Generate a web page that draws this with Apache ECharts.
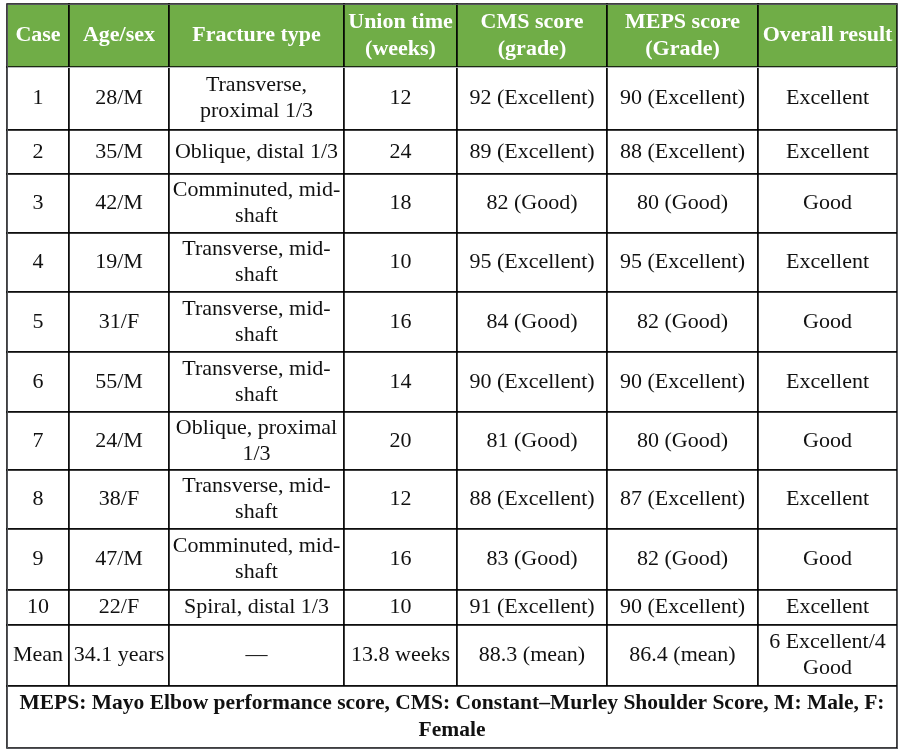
<!DOCTYPE html>
<html>
<head>
<meta charset="utf-8">
<script src="https://cdn.jsdelivr.net/npm/echarts@6/dist/echarts.min.js"></script>
<style>
  html, body { margin: 0; padding: 0; background: #fff; }
  #main { width: 903px; height: 754px; }
</style>
</head>
<body>
<div id="main"></div>
<script>
// table content
var headers = ['Case', 'Age/sex', 'Fracture type', 'Union time\n(weeks)', 'CMS score\n(grade)', 'MEPS score\n(Grade)', 'Overall result'];
var cases = ['1', '2', '3', '4', '5', '6', '7', '8', '9', '10', 'Mean'];
var ageSex = ['28/M', '35/M', '42/M', '19/M', '31/F', '55/M', '24/M', '38/F', '47/M', '22/F', '34.1 years'];
var fractureType = ['Transverse,\nproximal 1/3', 'Oblique, distal 1/3', 'Comminuted, mid-\nshaft', 'Transverse, mid-\nshaft',
    'Transverse, mid-\nshaft', 'Transverse, mid-\nshaft', 'Oblique, proximal\n1/3', 'Transverse, mid-\nshaft',
    'Comminuted, mid-\nshaft', 'Spiral, distal 1/3', '\u2014'];
var unionTime = ['12', '24', '18', '10', '16', '14', '20', '12', '16', '10', '13.8 weeks'];
var cmsScore = ['92 (Excellent)', '89 (Excellent)', '82 (Good)', '95 (Excellent)', '84 (Good)', '90 (Excellent)',
    '81 (Good)', '88 (Excellent)', '83 (Good)', '91 (Excellent)', '88.3 (mean)'];
var mepsScore = ['90 (Excellent)', '88 (Excellent)', '80 (Good)', '95 (Excellent)', '82 (Good)', '90 (Excellent)',
    '80 (Good)', '87 (Excellent)', '82 (Good)', '90 (Excellent)', '86.4 (mean)'];
var overall = ['Excellent', 'Excellent', 'Good', 'Excellent', 'Good', 'Excellent', 'Good', 'Excellent', 'Good',
    'Excellent', '6 Excellent/4\nGood'];
var footnote = 'MEPS: Mayo Elbow performance score, CMS: Constant\u2013Murley Shoulder Score, M: Male, F:\nFemale';

// layout (px)
var colWidths = [62, 100, 175, 113, 150, 151, 139];
var headerHeight = 63;
var rowHeights = [63, 44, 59, 59, 60, 60, 58, 59, 61, 35, 61, 62];

var FONT = '"Liberation Serif", "Times New Roman", serif';
var columns = [cases, ageSex, fractureType, unionTime, cmsScore, mepsScore, overall];
var rowKeys = cases.map(function (c) { return 'Case ' + c; }).concat(['Note']);

var bodyData = [];
cases.forEach(function (c, i) {
    columns.forEach(function (col, j) {
        bodyData.push({ coord: [headers[j], rowKeys[i]], value: col[i] });
    });
});
bodyData.push({
    coord: [[headers[0], headers[headers.length - 1]], 'Note'],
    mergeCells: true,
    value: footnote,
    label: { fontWeight: 'bold', fontSize: 21.5, lineHeight: 27 }
});

var dom = document.getElementById('main');
var myChart = echarts.init(dom);

var option = {
    animation: false,
    matrix: {
        left: 7,
        top: 4,
        width: 890,
        height: 744,
        x: {
            data: headers.map(function (h, i) { return { value: h, size: colWidths[i] }; }),
            levelSize: headerHeight,
            itemStyle: { color: '#70AD47', borderColor: '#000', borderWidth: 1.5 },
            label: {
                color: '#fff', fontWeight: 'bold', fontSize: 22, fontFamily: FONT,
                lineHeight: 27, offset: [0, 2], overflow: 'none'
            }
        },
        y: {
            show: false,
            data: rowKeys.map(function (k, i) { return { value: k, size: rowHeights[i] }; })
        },
        body: {
            data: bodyData,
            itemStyle: { color: '#fff', borderColor: '#000', borderWidth: 1.5 },
            label: {
                color: '#111', fontSize: 22, fontFamily: FONT, lineHeight: 26,
                offset: [0, 2], overflow: 'none'
            }
        }
    }
};

if (option && typeof option === 'object') {
    myChart.setOption(option, true);
}
</script>
</body>
</html>
